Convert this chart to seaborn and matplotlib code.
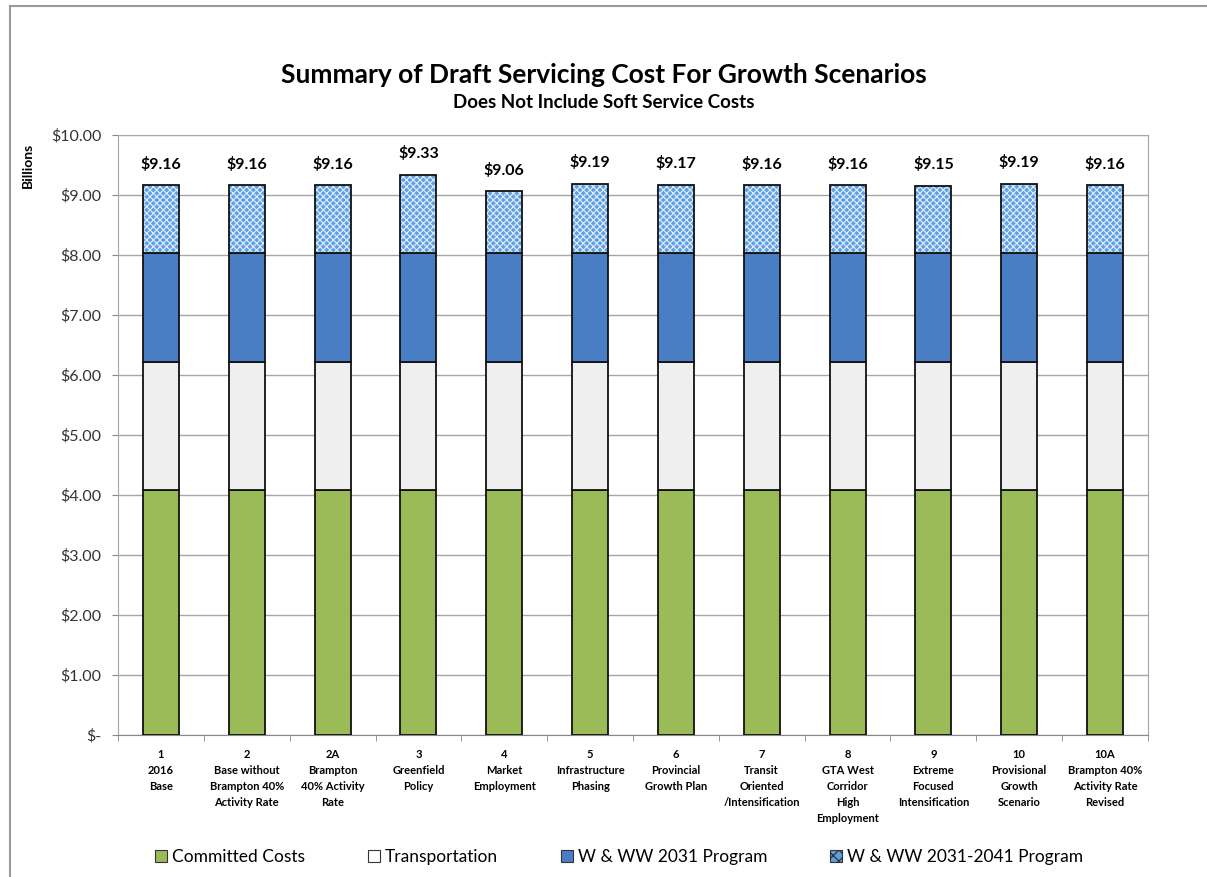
import matplotlib
matplotlib.use("Agg")
import matplotlib.pyplot as plt
from matplotlib.patches import Patch
from matplotlib.lines import Line2D
import numpy as np
import pandas as pd
import seaborn as sns

# Scenario labels (x axis)
scenarios = [
    "1\n2016\nBase",
    "2\nBase without\nBrampton 40%\nActivity Rate",
    "2A\nBrampton\n40% Activity\nRate",
    "3\nGreenfield\nPolicy",
    "4\nMarket\nEmployment",
    "5\nInfrastructure\nPhasing",
    "6\nProvincial\nGrowth Plan",
    "7\nTransit\nOriented\n/Intensification",
    "8\nGTA West\nCorridor\nHigh\nEmployment",
    "9\nExtreme\nFocused\nIntensification",
    "10\nProvisional\nGrowth\nScenario",
    "10A\nBrampton 40%\nActivity Rate\nRevised",
]

# Billions of dollars
committed = [4.08] * 12
transportation = [2.13] * 12
ww_2031 = [1.82] * 12
totals = [9.16, 9.16, 9.16, 9.33, 9.06, 9.19, 9.17, 9.16, 9.16, 9.15, 9.19, 9.16]
ww_2041 = [t - (c + tr + w) for t, c, tr, w in zip(totals, committed, transportation, ww_2031)]

series_names = ["Committed Costs", "Transportation", "W & WW 2031 Program", "W & WW 2031-2041 Program"]
green = "#9BBB59"
light = "#EFEFEF"
blue = "#4A7EC4"
hatch_blue = "#5F9EE2"

plt.rcParams["font.family"] = ["Lato", "DejaVu Sans"]
plt.rcParams["hatch.linewidth"] = 0.9

fig = plt.figure(figsize=(12.07, 8.77), dpi=100)
ax = fig.add_axes([118 / 1207, 1 - 735 / 877, (1148 - 118) / 1207, (735 - 135) / 877])

df = pd.DataFrame({"scenario": scenarios, "committed": committed,
                   "transportation": transportation, "ww_2031": ww_2031,
                   "ww_2041": ww_2041})
b1 = np.array(committed)
b2 = b1 + np.array(transportation)
b3 = b2 + np.array(ww_2031)

bw = 0.42
kw = dict(ax=ax, width=bw, edgecolor="#111111", linewidth=1.3, zorder=3)
sns.barplot(data=df, x="scenario", y="committed", color=green, saturation=1, **kw)
sns.barplot(data=df, x="scenario", y="transportation", bottom=b1, color=light, saturation=1, **kw)
sns.barplot(data=df, x="scenario", y="ww_2031", bottom=b2, color=blue, saturation=1, **kw)
# hatched top segment: fine white pattern first, then outline
sns.barplot(data=df, x="scenario", y="ww_2041", bottom=b3, color=hatch_blue, saturation=1,
            ax=ax, width=bw, edgecolor="#D8EAFB", linewidth=0, hatch="xxxxx", zorder=3)
sns.barplot(data=df, x="scenario", y="ww_2041", bottom=b3, color="black", fill=False,
            ax=ax, width=bw, edgecolor="#111111", linewidth=1.3, zorder=4)

for i, t in enumerate(totals):
    ax.annotate(f"${t:.2f}", (i, t), xytext=(0, 10), textcoords="offset points",
                ha="center", va="bottom", fontsize=11.5, fontweight="bold")

ax.set_ylim(0, 10)
ax.set_xlim(-0.5, len(scenarios) - 0.5)
yt = np.arange(0, 11)
ax.set_yticks(yt)
ax.set_yticklabels(["$-"] + [f"${v:.2f}" for v in yt[1:]], fontsize=11.5, color="#333333")
ax.yaxis.grid(True, color="#A6A6A6", linewidth=1, zorder=0)
ax.set_axisbelow(True)
ax.tick_params(axis="y", length=4, color="#888888", pad=8)

ax.set_xticks(range(len(scenarios)))
ax.set_xticklabels(scenarios, fontsize=8, fontweight="bold", linespacing=1.55, va="top")
ax.tick_params(axis="x", length=0, pad=10)
ax.set_xticks(np.arange(-0.5, len(scenarios)), minor=True)
ax.tick_params(axis="x", which="minor", length=4, color="#888888")
ax.set_xlabel("")
ax.set_ylabel("Billions", fontsize=10, fontweight="bold")
ax.yaxis.set_label_coords(-0.082, 0.95)

for s in ["top", "right", "left"]:
    ax.spines[s].set_color("#A6A6A6")
ax.spines["bottom"].set_color("#888888")

fig.text(0.5, 1 - 75 / 877, "Summary of Draft Servicing Cost For Growth Scenarios",
         ha="center", va="center", fontsize=19, fontweight="bold")
fig.text(0.5, 1 - 103 / 877, "Does Not Include Soft Service Costs",
         ha="center", va="center", fontsize=13.5, fontweight="bold")

handles = [
    Patch(facecolor=green, edgecolor="#333333", linewidth=0.8),
    Patch(facecolor="white", edgecolor="#333333", linewidth=0.8),
    Patch(facecolor=blue, edgecolor="#333333", linewidth=0.8),
    Patch(facecolor=hatch_blue, edgecolor="#333333", linewidth=0.8, hatch="xxx"),
]
fig.legend(handles, series_names, loc="center", bbox_to_anchor=(0.513, 1 - 857 / 877),
           ncol=4, frameon=False, fontsize=12.5, columnspacing=3.6,
           handlelength=0.7, handleheight=0.7, handletextpad=0.3)

# outer chart border
fig.add_artist(Line2D([10 / 1207, 1], [1 - 6 / 877, 1 - 6 / 877], color="#999999", lw=1.5,
                      transform=fig.transFigure))
fig.add_artist(Line2D([10 / 1207, 10 / 1207], [0, 1 - 6 / 877], color="#999999", lw=1.5,
                      transform=fig.transFigure))

fig.savefig("out.png", dpi=100)
